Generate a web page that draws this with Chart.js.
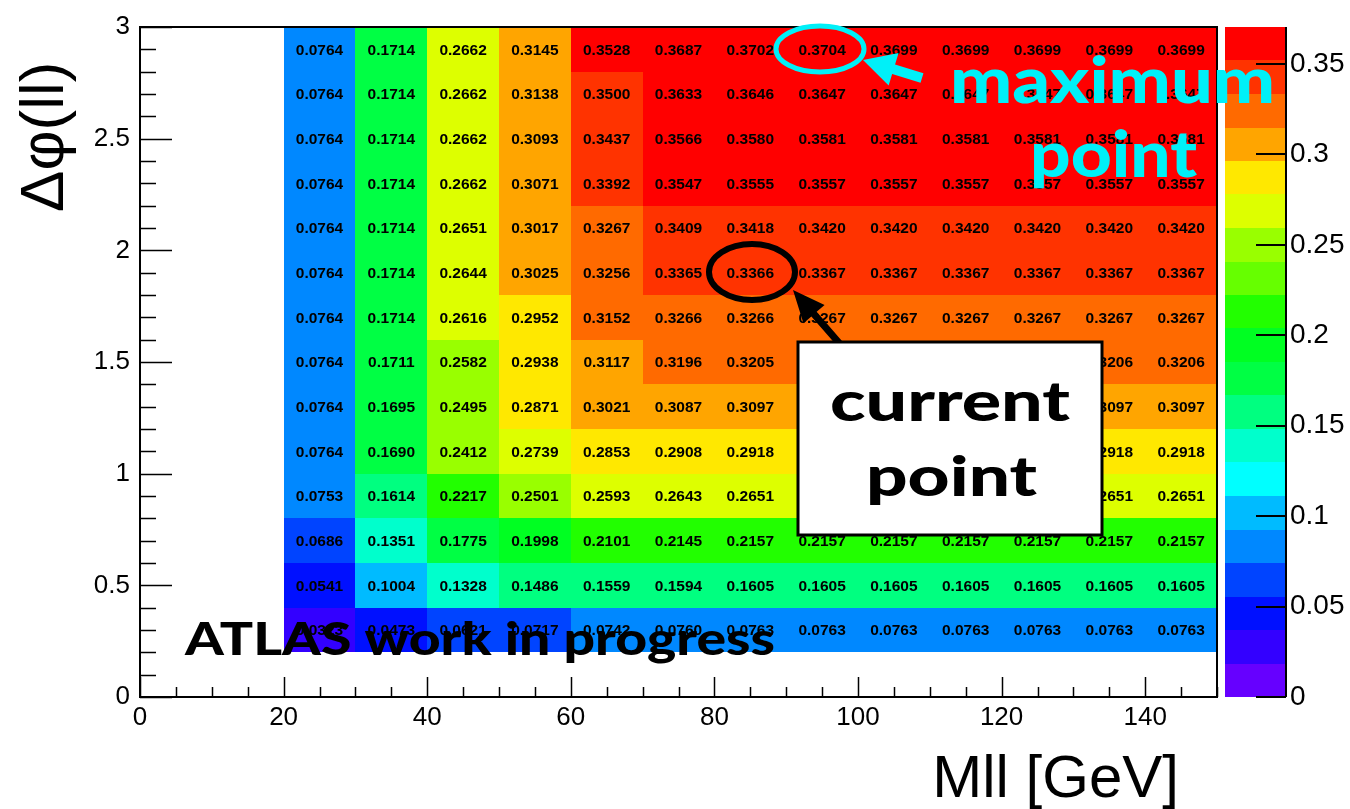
<!DOCTYPE html>
<html>
<head>
<meta charset="utf-8">
<title>Delta phi vs Mll</title>
<script src="https://cdn.jsdelivr.net/npm/chart.js@4.4.1/dist/chart.umd.min.js"></script>
<style>
    html, body { margin: 0; padding: 0; background: #fff; }
    canvas { display: block; }
</style>
</head>
<body>
<canvas id="heatmap" width="1350" height="809"></canvas>
<script>
// Bin edges
const mllEdges = [20, 30, 40, 50, 60, 70, 80, 90, 100, 110, 120, 130, 140, 150];
const dphiEdges = [0.2, 0.4, 0.6, 0.8, 1.0, 1.2, 1.4, 1.6, 1.8, 2.0, 2.2, 2.4, 2.6, 2.8, 3.0];

// Cell values, one array per delta phi row (lower edge in the name), columns follow mllEdges
const dphi_0p2 = [0.0323, 0.0473, 0.0621, 0.0717, 0.0742, 0.0760, 0.0763, 0.0763, 0.0763, 0.0763, 0.0763, 0.0763, 0.0763];
const dphi_0p4 = [0.0541, 0.1004, 0.1328, 0.1486, 0.1559, 0.1594, 0.1605, 0.1605, 0.1605, 0.1605, 0.1605, 0.1605, 0.1605];
const dphi_0p6 = [0.0686, 0.1351, 0.1775, 0.1998, 0.2101, 0.2145, 0.2157, 0.2157, 0.2157, 0.2157, 0.2157, 0.2157, 0.2157];
const dphi_0p8 = [0.0753, 0.1614, 0.2217, 0.2501, 0.2593, 0.2643, 0.2651, 0.2651, 0.2651, 0.2651, 0.2651, 0.2651, 0.2651];
const dphi_1p0 = [0.0764, 0.1690, 0.2412, 0.2739, 0.2853, 0.2908, 0.2918, 0.2918, 0.2918, 0.2918, 0.2918, 0.2918, 0.2918];
const dphi_1p2 = [0.0764, 0.1695, 0.2495, 0.2871, 0.3021, 0.3087, 0.3097, 0.3097, 0.3097, 0.3097, 0.3097, 0.3097, 0.3097];
const dphi_1p4 = [0.0764, 0.1711, 0.2582, 0.2938, 0.3117, 0.3196, 0.3205, 0.3206, 0.3206, 0.3206, 0.3206, 0.3206, 0.3206];
const dphi_1p6 = [0.0764, 0.1714, 0.2616, 0.2952, 0.3152, 0.3266, 0.3266, 0.3267, 0.3267, 0.3267, 0.3267, 0.3267, 0.3267];
const dphi_1p8 = [0.0764, 0.1714, 0.2644, 0.3025, 0.3256, 0.3365, 0.3366, 0.3367, 0.3367, 0.3367, 0.3367, 0.3367, 0.3367];
const dphi_2p0 = [0.0764, 0.1714, 0.2651, 0.3017, 0.3267, 0.3409, 0.3418, 0.3420, 0.3420, 0.3420, 0.3420, 0.3420, 0.3420];
const dphi_2p2 = [0.0764, 0.1714, 0.2662, 0.3071, 0.3392, 0.3547, 0.3555, 0.3557, 0.3557, 0.3557, 0.3557, 0.3557, 0.3557];
const dphi_2p4 = [0.0764, 0.1714, 0.2662, 0.3093, 0.3437, 0.3566, 0.3580, 0.3581, 0.3581, 0.3581, 0.3581, 0.3581, 0.3581];
const dphi_2p6 = [0.0764, 0.1714, 0.2662, 0.3138, 0.3500, 0.3633, 0.3646, 0.3647, 0.3647, 0.3647, 0.3647, 0.3647, 0.3647];
const dphi_2p8 = [0.0764, 0.1714, 0.2662, 0.3145, 0.3528, 0.3687, 0.3702, 0.3704, 0.3699, 0.3699, 0.3699, 0.3699, 0.3699];

const dphiRows = [dphi_0p2, dphi_0p4, dphi_0p6, dphi_0p8, dphi_1p0, dphi_1p2, dphi_1p4,
                  dphi_1p6, dphi_1p8, dphi_2p0, dphi_2p2, dphi_2p4, dphi_2p6, dphi_2p8];

// Colour scale: 20 contours from 0 to the histogram maximum
const zMax = 0.3704;
const zTickStep = 0.05;
const paletteColors = [
    "#6600FF", "#3300FF", "#0010FF", "#0044FF", "#0088FF",
    "#00BBFF", "#00FFFF", "#00FFCC", "#00FF80", "#00FF44",
    "#00FF22", "#22FF00", "#66FF00", "#99FF00", "#DDFF00",
    "#FFE800", "#FFA500", "#FF6A00", "#FF3300", "#FF0000"
];

const xTitle = "Mll [GeV]";
const yTitle = "\u0394\u03C6(ll)";

function colorFor(v) {
    const step = zMax / paletteColors.length;
    const idx = Math.min(paletteColors.length - 1, Math.floor(v / step + 1e-9));
    return paletteColors[Math.max(0, idx)];
}

// plain number labels: 3 not 3.0, 0.3 not 0.30
function plainLabel(value) {
    return String(Number(value.toFixed(4)));
}

// one point per cell, centre plus edges
const cells = [];
dphiRows.forEach((row, j) => {
    row.forEach((v, i) => {
        cells.push({
            x: (mllEdges[i] + mllEdges[i + 1]) / 2,
            y: (dphiEdges[j] + dphiEdges[j + 1]) / 2,
            x0: mllEdges[i], x1: mllEdges[i + 1],
            y0: dphiEdges[j], y1: dphiEdges[j + 1],
            v: v
        });
    });
});

function drawArrow(ctx, tail, tip, shaftW, headLen, headHalf, color) {
    const dx = tip[0] - tail[0], dy = tip[1] - tail[1];
    const len = Math.hypot(dx, dy);
    const ux = dx / len, uy = dy / len;
    const nx = -uy, ny = ux;
    const neck = [tip[0] - ux * headLen, tip[1] - uy * headLen];
    ctx.save();
    ctx.fillStyle = color;
    ctx.beginPath();
    ctx.moveTo(tail[0] + nx * shaftW / 2, tail[1] + ny * shaftW / 2);
    ctx.lineTo(neck[0] + nx * shaftW / 2, neck[1] + ny * shaftW / 2);
    ctx.lineTo(neck[0] + nx * headHalf, neck[1] + ny * headHalf);
    ctx.lineTo(tip[0], tip[1]);
    ctx.lineTo(neck[0] - nx * headHalf, neck[1] - ny * headHalf);
    ctx.lineTo(neck[0] - nx * shaftW / 2, neck[1] - ny * shaftW / 2);
    ctx.lineTo(tail[0] - nx * shaftW / 2, tail[1] - ny * shaftW / 2);
    ctx.closePath();
    ctx.fill();
    ctx.restore();
}

// draw text squeezed/stretched into a given width
function fitText(ctx, text, font, left, width, baseline, color) {
    ctx.save();
    ctx.font = font;
    ctx.fillStyle = color;
    ctx.textAlign = "left";
    ctx.textBaseline = "alphabetic";
    const w = ctx.measureText(text).width;
    ctx.translate(left, baseline);
    ctx.scale(width / w, 1);
    ctx.fillText(text, 0, 0);
    ctx.restore();
}

// chart.js adds tick padding to the edge padding too, drop it so the plot box stays put
function noEdgePadding(s) {
    s.paddingTop = 0;
    s.paddingBottom = 0;
    s.paddingLeft = 0;
    s.paddingRight = 0;
}

const heatmapPlugin = {
    id: "heatmap",
    beforeDraw(chart) {
        const ctx = chart.ctx;
        ctx.save();
        ctx.fillStyle = "#fff";
        ctx.fillRect(0, 0, chart.width, chart.height);
        ctx.restore();
    },
    beforeDatasetsDraw(chart) {
        const ctx = chart.ctx;
        const xs = chart.scales.x, ys = chart.scales.y;
        ctx.save();
        chart.data.datasets[0].data.forEach(c => {
            const l = Math.round(xs.getPixelForValue(c.x0));
            const r = Math.round(xs.getPixelForValue(c.x1));
            const t = Math.round(ys.getPixelForValue(c.y1));
            const b = Math.round(ys.getPixelForValue(c.y0));
            ctx.fillStyle = colorFor(c.v);
            ctx.fillRect(l, t, r - l, b - t);
        });
        ctx.restore();
    },
    afterDatasetsDraw(chart) {
        const ctx = chart.ctx;
        const xs = chart.scales.x, ys = chart.scales.y, zs = chart.scales.z;
        const area = chart.chartArea;

        // values in the cells
        ctx.save();
        ctx.fillStyle = "#000";
        ctx.font = "bold 15.5px 'Liberation Sans', Arial, sans-serif";
        ctx.textAlign = "center";
        ctx.textBaseline = "middle";
        chart.data.datasets[0].data.forEach(c => {
            ctx.fillText(c.v.toFixed(4), xs.getPixelForValue(c.x), ys.getPixelForValue(c.y) + 1);
        });
        ctx.restore();

        // frame and inside ticks
        ctx.save();
        ctx.strokeStyle = "#000";
        ctx.lineWidth = 2;
        ctx.strokeRect(area.left, area.top, area.right - area.left, area.bottom - area.top);
        ctx.lineWidth = 1.5;
        ctx.beginPath();
        for (let v = 0; v <= 150; v += 5) {
            const px = Math.round(xs.getPixelForValue(v)) + 0.5;
            const len = v % 20 === 0 ? 20 : 10;
            ctx.moveTo(px, area.bottom);
            ctx.lineTo(px, area.bottom - len);
        }
        for (let k = 0; k <= 30; k++) {
            const py = Math.round(ys.getPixelForValue(k / 10)) + 0.5;
            const len = k % 5 === 0 ? 32 : 16;
            ctx.moveTo(area.left, py);
            ctx.lineTo(area.left + len, py);
        }
        ctx.stroke();
        ctx.restore();

        // colour bar
        const barLeft = area.right + 8, barRight = area.right + 69;
        ctx.save();
        paletteColors.forEach((col, i) => {
            const step = zMax / paletteColors.length;
            const yb = Math.round(zs.getPixelForValue(i * step));
            const yt = Math.round(zs.getPixelForValue((i + 1) * step));
            ctx.fillStyle = col;
            ctx.fillRect(barLeft, yt, barRight - barLeft, yb - yt);
        });
        ctx.strokeStyle = "#000";
        ctx.lineWidth = 2;
        ctx.beginPath();
        ctx.moveTo(barRight, zs.top);
        ctx.lineTo(barRight, zs.bottom);
        zs.ticks.forEach(t => {
            const py = Math.round(zs.getPixelForValue(t.value));
            ctx.moveTo(barRight, py);
            ctx.lineTo(barRight - 30, py);
        });
        ctx.stroke();
        ctx.restore();

        // axis titles
        ctx.save();
        ctx.fillStyle = "#000";
        ctx.font = "60px 'Liberation Sans', Arial, sans-serif";
        ctx.textAlign = "right";
        ctx.textBaseline = "alphabetic";
        ctx.fillText(xTitle, area.right - 38, 797);
        ctx.translate(63, 212);
        ctx.rotate(-Math.PI / 2);
        ctx.font = "62px 'Liberation Sans', Arial, sans-serif";
        ctx.textAlign = "left";
        ctx.fillText(yTitle, 0, 0);
        ctx.restore();

        // annotations
        const heavy56 = "900 56px Lato, 'Liberation Sans', sans-serif";
        const heavy64 = "900 64px Lato, 'Liberation Sans', sans-serif";
        fitText(ctx, "ATLAS work in progress", "900 45px Lato, 'Liberation Sans', sans-serif", 185, 590, 655, "#000");

        ctx.save();
        ctx.strokeStyle = "#00F0F8";
        ctx.lineWidth = 5;
        ctx.beginPath();
        ctx.ellipse(820, 49, 44, 23, 0, 0, Math.PI * 2);
        ctx.stroke();
        ctx.strokeStyle = "#000";
        ctx.lineWidth = 6;
        ctx.beginPath();
        ctx.ellipse(752, 272, 43, 28, 0, 0, Math.PI * 2);
        ctx.stroke();
        ctx.restore();

        drawArrow(ctx, [922, 78], [863, 60], 10, 32, 17, "#00F0F8");
        fitText(ctx, "maximum", heavy64, 950, 325, 103, "#00F0F8");
        fitText(ctx, "point", heavy64, 1030, 167, 177, "#00F0F8");

        drawArrow(ctx, [840, 344], [793, 290], 7, 32, 14, "#000");
        ctx.save();
        ctx.fillStyle = "#fff";
        ctx.fillRect(798, 342, 304, 193);
        ctx.strokeStyle = "#000";
        ctx.lineWidth = 3;
        ctx.strokeRect(798, 342, 304, 193);
        ctx.restore();
        fitText(ctx, "current", heavy56, 830, 240, 421, "#000");
        fitText(ctx, "point", heavy56, 866, 171, 496, "#000");
    }
};

Chart.defaults.font.family = "'Liberation Sans', Arial, sans-serif";
Chart.defaults.color = "#000";

const heatCtx = document.getElementById("heatmap").getContext("2d");
const heatChart = new Chart(heatCtx, {
    type: "scatter",
    data: {
        datasets: [{
            label: "significance",
            data: cells,
            pointRadius: 0,
            pointHoverRadius: 0
        }]
    },
    options: {
        responsive: false,
        animation: false,
        events: [],
        layout: { padding: { top: 27, left: 0, right: 0, bottom: 0 } },
        plugins: {
            legend: { display: false },
            tooltip: { enabled: false }
        },
        scales: {
            x: {
                type: "linear",
                min: 0,
                max: 150,
                bounds: "data",
                grid: { display: false, drawTicks: false },
                border: { display: false },
                ticks: { stepSize: 20, autoSkip: false, maxRotation: 0, padding: 5, font: { size: 26 }, callback: plainLabel },
                afterBuildTicks: s => { s.ticks = s.ticks.filter(t => t.value % 20 === 0); },
                afterFit: s => { s.height = 112; noEdgePadding(s); }
            },
            y: {
                type: "linear",
                min: 0,
                max: 3,
                bounds: "data",
                grid: { display: false, drawTicks: false },
                border: { display: false },
                ticks: { stepSize: 0.5, autoSkip: false, padding: 10, font: { size: 26 }, callback: plainLabel },
                afterFit: s => { s.width = 140; noEdgePadding(s); }
            },
            z: {
                type: "linear",
                position: "right",
                min: 0,
                max: zMax,
                bounds: "data",
                grid: { display: false, drawTicks: false },
                border: { display: false },
                ticks: { stepSize: zTickStep, autoSkip: false, padding: 73, font: { size: 28 }, callback: plainLabel },
                afterBuildTicks: s => { s.ticks = s.ticks.filter(t => t.value <= zMax - 0.01); },
                afterFit: s => { s.width = 133; noEdgePadding(s); }
            }
        }
    },
    plugins: [heatmapPlugin]
});
</script>
</body>
</html>
